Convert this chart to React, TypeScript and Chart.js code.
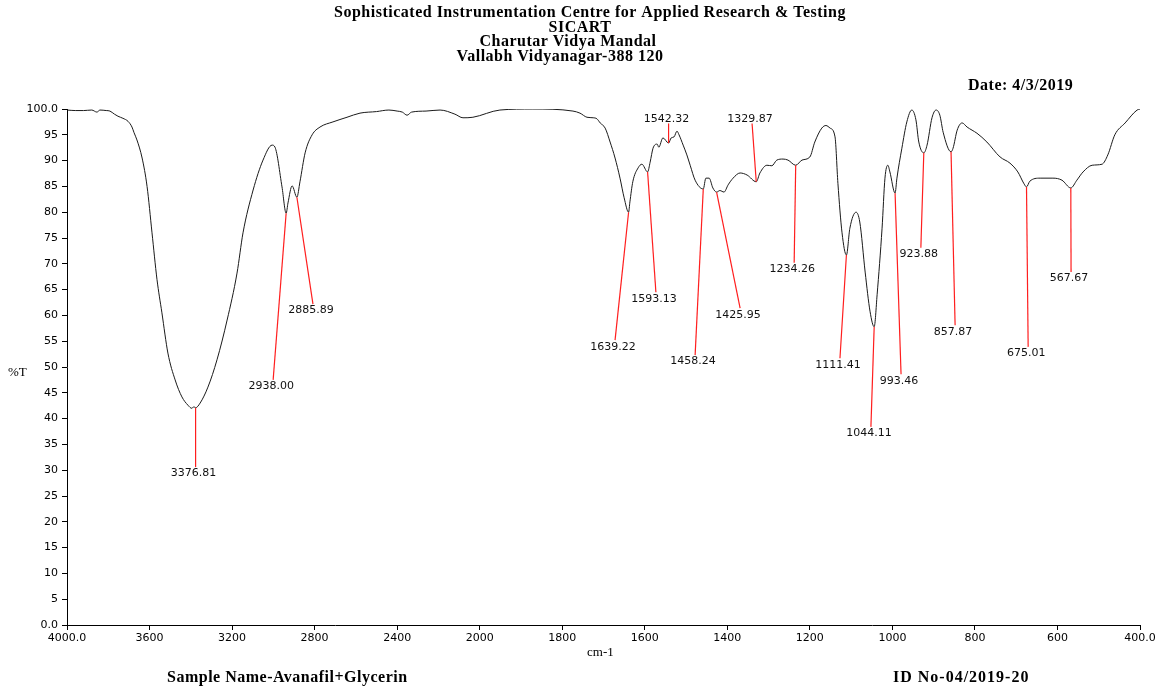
import React, { useEffect, useRef } from "react";
import { Chart, registerables } from "chart.js";

Chart.register(...registerables);

// Axis break points: 4000-2000 cm-1 is drawn at half the scale of 2000-400 cm-1
const xTickWaves = [4000, 3600, 3200, 2800, 2400, 2000, 1800, 1600, 1400, 1200, 1000, 800, 600, 400];
const xTickLabels = ["4000.0", "3600", "3200", "2800", "2400", "2000", "1800", "1600", "1400", "1200", "1000", "800", "600", "400.0"];
const yTickLabels = ["0.0", "5", "10", "15", "20", "25", "30", "35", "40", "45", "50", "55", "60", "65", "70", "75", "80", "85", "90", "95", "100.0"];

// FTIR spectrum, wavenumber (cm-1) and transmittance (%T)
const waveNumbers = [
  4000, 3960, 3920, 3880, 3855, 3840, 3810, 3792, 3770, 3753, 3729, 3704, 3685, 3675, 3661, 3636, 3612, 3588, 3564, 3540,
  3511, 3476, 3443, 3414, 3395, 3385, 3376.81, 3355, 3317, 3273, 3224, 3176, 3147, 3098, 3050, 3006, 2992, 2958, 2938, 2929,
  2909, 2885.89, 2871, 2846, 2812, 2774, 2711, 2643, 2580, 2500, 2440, 2400, 2375, 2352, 2330, 2260, 2192, 2120, 2081, 2033,
  1951, 1871, 1774, 1757, 1740, 1725, 1716, 1708, 1696, 1684, 1672, 1660, 1650, 1639.22, 1636, 1629, 1616, 1607, 1593.13, 1587,
  1580, 1570, 1566, 1556, 1542.32, 1536, 1529, 1522, 1517, 1507, 1498, 1490, 1478, 1458.24, 1452, 1444, 1435, 1425.95, 1418, 1408,
  1398, 1386, 1369, 1352, 1329.87, 1321, 1304, 1292, 1280, 1265, 1253, 1234.26, 1219, 1200, 1188, 1171, 1161, 1151, 1139, 1132,
  1122, 1111.41, 1103, 1088, 1079, 1066, 1054, 1044.11, 1037, 1025, 1018, 1011, 1006, 993.46, 989, 977, 965, 953, 943, 936,
  923.88, 916, 904, 894, 885, 877, 857.87, 853, 843, 831, 819, 807, 795, 771, 739, 715, 696, 681, 675.01, 667,
  642, 611, 589, 567.67, 553, 538, 516, 492, 478, 461, 436, 407, 400,
];
const transmittance = [
  99.8, 99.7, 99.7, 99.8, 99.4, 99.8, 99.7, 99.6, 99.0, 98.6, 98.2, 97.6, 96.5, 95.4, 94.0, 90.5, 85.0, 76.0, 67.0, 60.5,
  52.7, 47.5, 44.2, 42.6, 42.0, 42.3, 42.1, 43.0, 46.1, 51.4, 59.1, 68.2, 76.0, 84.3, 90.1, 93.0, 92.6, 84.9, 79.8, 81.8,
  85.1, 82.9, 85.9, 91.5, 95.0, 96.5, 97.5, 98.4, 99.2, 99.5, 99.8, 99.6, 99.4, 98.8, 99.4, 99.6, 99.8, 99.0, 98.3, 98.4,
  99.8, 100.0, 99.6, 99.2, 98.4, 98.3, 98.1, 97.3, 96.3, 93.6, 90.5, 86.6, 82.8, 80.0, 82.0, 85.9, 88.6, 89.3, 87.8, 89.7,
  92.4, 93.2, 92.6, 94.4, 93.4, 94.4, 94.6, 95.7, 95.0, 93.0, 91.1, 89.1, 86.2, 84.5, 86.6, 86.6, 84.7, 83.9, 84.2, 83.9,
  85.3, 86.6, 87.6, 87.2, 85.9, 87.6, 89.1, 89.0, 90.1, 90.3, 90.1, 89.1, 90.1, 90.7, 93.6, 96.3, 96.8, 96.3, 94.6, 85.6,
  76.0, 71.7, 76.9, 80.0, 78.1, 68.4, 60.7, 57.8, 64.0, 76.9, 86.6, 89.1, 87.8, 83.7, 86.6, 92.4, 97.5, 99.8, 97.9, 93.6,
  91.5, 93.0, 98.3, 99.8, 98.8, 95.5, 91.7, 92.4, 95.9, 97.3, 96.5, 95.9, 95.3, 93.6, 90.7, 89.5, 87.8, 85.5, 84.9, 86.0,
  86.6, 86.6, 86.2, 84.7, 86.2, 87.8, 89.1, 89.3, 91.1, 95.0, 97.3, 99.8, 100.0,
];

// Picked peaks: position, %T at the peak, and where the leader line ends (label anchor)
const peakWaves = [3376.81, 2938.0, 2885.89, 1639.22, 1593.13, 1542.32, 1458.24, 1425.95, 1329.87, 1234.26, 1111.41, 1044.11, 993.46, 923.88, 857.87, 675.01, 567.67];
const peakT = [42.1, 79.8, 82.9, 80.0, 87.8, 93.4, 84.5, 83.9, 85.9, 89.1, 71.7, 57.8, 83.7, 91.5, 91.7, 84.9, 84.7];
const tagWaves = [3376.81, 3001, 2808, 1672, 1573, 1542.32, 1478, 1369, 1340, 1238, 1127, 1052, 979, 931, 848, 671, 567];
const tagT = [30.6, 47.5, 62.2, 55.2, 64.5, 97.2, 52.3, 61.4, 97.2, 70.2, 51.7, 38.4, 48.6, 73.1, 58.1, 53.9, 68.4];

// Map a wavenumber onto the piecewise axis (0 .. 13)
function toAxis(w: number): number {
  for (let i = 0; i < xTickWaves.length - 1; i++) {
    const a = xTickWaves[i];
    const b = xTickWaves[i + 1];
    if (w >= b) return i + (a - w) / (a - b);
  }
  return xTickWaves.length - 1;
}

const serif = "'Liberation Serif', 'Times New Roman', serif";
const sans = "'DejaVu Sans', sans-serif";

const annotationPlugin = {
  id: "irAnnotations",
  afterDatasetsDraw(chart: any) {
    const { ctx, scales } = chart;
    const xs = scales.x;
    const ys = scales.y;
    ctx.save();
    // peak leader lines and labels
    for (let i = 0; i < peakWaves.length; i++) {
      const px = xs.getPixelForValue(toAxis(peakWaves[i]));
      const py = ys.getPixelForValue(peakT[i]);
      const tx = xs.getPixelForValue(toAxis(tagWaves[i]));
      const ty = ys.getPixelForValue(tagT[i]);
      ctx.strokeStyle = "rgb(255,30,30)";
      ctx.lineWidth = 1.2;
      ctx.beginPath();
      ctx.moveTo(px, py);
      ctx.lineTo(tx, ty);
      ctx.stroke();
      ctx.fillStyle = "#111";
      ctx.font = `11px ${sans}`;
      ctx.textAlign = "center";
      const above = tagT[i] > peakT[i];
      ctx.textBaseline = above ? "bottom" : "top";
      ctx.fillText(peakWaves[i].toFixed(2), tx - 2, above ? ty + 1 : ty + 1);
    }
    ctx.restore();
  },
  afterDraw(chart: any) {
    const { ctx } = chart;
    ctx.save();
    ctx.fillStyle = "#000";
    ctx.textBaseline = "middle";
    ctx.textAlign = "center";
    ctx.font = `bold 16px ${serif}`;
    ctx.letterSpacing = "0.5px";
    ctx.fillText("Sophisticated Instrumentation Centre for Applied Research & Testing", 590, 13);
    ctx.fillText("SICART", 580, 28);
    ctx.fillText("Charutar Vidya Mandal", 568, 42);
    ctx.fillText("Vallabh Vidyanagar-388 120", 560, 57);
    ctx.textAlign = "left";
    ctx.fillText("Date: 4/3/2019", 968, 86);
    ctx.fillText("Sample Name-Avanafil+Glycerin", 167, 678);
    ctx.letterSpacing = "1px";
    ctx.fillText("ID No-04/2019-20", 893, 678);
    ctx.letterSpacing = "0px";
    ctx.font = `13px ${serif}`;
    ctx.fillText("cm-1", 587, 653);
    ctx.fillText("%T", 8, 373);
    ctx.restore();
  },
};

export default function App() {
  const canvasRef = useRef<HTMLCanvasElement | null>(null);

  useEffect(() => {
    const canvas = canvasRef.current;
    if (!canvas) return;
    const points = waveNumbers.map((w, i) => ({ x: toAxis(w), y: transmittance[i] }));
    const chart = new Chart(canvas, {
      type: "line",
      data: {
        datasets: [
          {
            data: points,
            borderColor: "#1a1a1a",
            borderWidth: 1,
            pointRadius: 0,
            cubicInterpolationMode: "monotone",
            fill: false,
          },
        ],
      },
      options: {
        responsive: false,
        animation: false,
        events: [],
        layout: { padding: { left: 0, top: 109, right: 21, bottom: 0 } },
        plugins: { legend: { display: false }, tooltip: { enabled: false }, title: { display: false } },
        scales: {
          x: {
            type: "linear",
            min: 0,
            max: xTickWaves.length - 1,
            afterBuildTicks: (scale: any) => {
              scale.ticks = xTickWaves.map((_, i) => ({ value: i }));
            },
            afterFit: (scale: any) => {
              scale.height = 66;
            },
            ticks: {
              autoSkip: false,
              maxRotation: 0,
              padding: 2,
              color: "#000",
              font: { family: sans, size: 11 },
              callback: (_v: any, i: number) => xTickLabels[i],
            },
            grid: { drawOnChartArea: false, drawTicks: true, tickLength: 5, color: "#000" },
            border: { display: true, color: "#000", width: 1 },
          },
          y: {
            type: "linear",
            min: 0,
            max: 100,
            afterFit: (scale: any) => {
              scale.width = 67;
            },
            ticks: {
              stepSize: 5,
              padding: 4,
              color: "#000",
              font: { family: sans, size: 11 },
              callback: (_v: any, i: number) => yTickLabels[i],
            },
            grid: { drawOnChartArea: false, drawTicks: true, tickLength: 5, color: "#000" },
            border: { display: true, color: "#000", width: 1 },
          },
        },
      },
      plugins: [annotationPlugin],
    });
    return () => chart.destroy();
  }, []);

  return (
    <div style={{ position: "fixed", left: 0, top: 0, width: 1161, height: 691, background: "#fff" }}>
      <canvas ref={canvasRef} width={1161} height={691} />
    </div>
  );
}
